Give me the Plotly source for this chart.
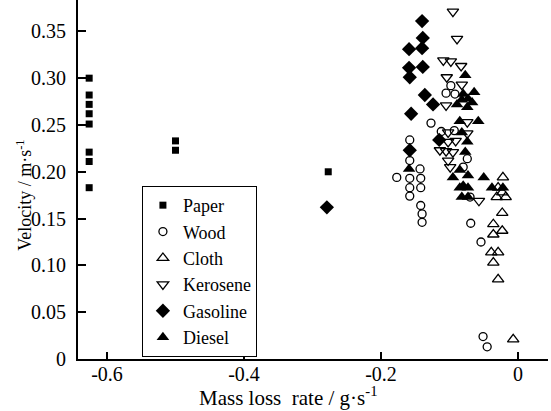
import plotly.graph_objects as go

# ---- data (mass loss rate g/s, velocity m/s) ----
paper_x = [-0.626, -0.626, -0.626, -0.626, -0.626, -0.626, -0.626, -0.626, -0.500, -0.500, -0.277]
paper_y = [0.300, 0.282, 0.272, 0.262, 0.251, 0.221, 0.211, 0.183, 0.233, 0.223, 0.200]

wood_x = [-0.098, -0.105, -0.092, -0.127, -0.112, -0.093, -0.158, -0.158, -0.074, -0.080,
          -0.143, -0.177, -0.158, -0.142, -0.158, -0.142, -0.158, -0.142, -0.140, -0.140,
          -0.070, -0.069, -0.054, -0.051, -0.045]
wood_y = [0.292, 0.284, 0.283, 0.252, 0.243, 0.244, 0.234, 0.212, 0.214, 0.205,
          0.203, 0.194, 0.193, 0.193, 0.183, 0.183, 0.174, 0.164, 0.155, 0.146,
          0.173, 0.145, 0.125, 0.024, 0.013]

cloth_x = [-0.022, -0.029, -0.023, -0.031, -0.018, -0.023, -0.036, -0.023, -0.036,
           -0.039, -0.029, -0.036, -0.029, -0.007]
cloth_y = [0.194, 0.183, 0.178, 0.173, 0.173, 0.156, 0.144, 0.137, 0.133,
           0.114, 0.114, 0.103, 0.085, 0.021]

kero_x = [-0.095, -0.089, -0.109, -0.098, -0.083, -0.104, -0.082, -0.105, -0.074, -0.102,
          -0.074, -0.102, -0.091, -0.114, -0.105, -0.095, -0.102, -0.099, -0.057]
kero_y = [0.371, 0.342, 0.319, 0.318, 0.313, 0.301, 0.293, 0.271, 0.253, 0.242,
          0.241, 0.232, 0.233, 0.223, 0.222, 0.221, 0.212, 0.205, 0.169]

gas_x = [-0.140, -0.139, -0.159, -0.140, -0.159, -0.139, -0.158, -0.136, -0.124, -0.156,
         -0.115, -0.158, -0.279]
gas_y = [0.361, 0.343, 0.331, 0.332, 0.311, 0.312, 0.301, 0.282, 0.272, 0.262,
         0.234, 0.223, 0.162]

diesel_x = [-0.077, -0.064, -0.080, -0.073, -0.067, -0.082, -0.089, -0.074, -0.085, -0.058,
            -0.082, -0.074, -0.077, -0.159, -0.085, -0.095, -0.073, -0.050, -0.085, -0.073,
            -0.038, -0.022, -0.082, -0.073, -0.080]
diesel_y = [0.303, 0.285, 0.283, 0.278, 0.274, 0.277, 0.272, 0.269, 0.254, 0.254,
            0.242, 0.232, 0.221, 0.203, 0.202, 0.194, 0.196, 0.194, 0.183, 0.183,
            0.183, 0.183, 0.173, 0.173, 0.185]

x_tickvals = [-0.6, -0.4, -0.2, 0]
x_ticktext = ["-0.6", "-0.4", "-0.2", "0"]
y_tickvals = [0, 0.05, 0.10, 0.15, 0.20, 0.25, 0.30, 0.35]
y_ticktext = ["0", "0.05", "0.10", "0.15", "0.20", "0.25", "0.30", "0.35"]

x_title = "Mass loss  rate / g·s<sup>-1</sup>"
y_title = "Velocity / m·s<sup>-1</sup>"

FONT = "Liberation Serif"

fig = go.Figure()

def add(name, xs, ys, symbol, size, filled):
    fig.add_trace(go.Scatter(
        x=xs, y=ys, mode="markers", name=name,
        marker=dict(symbol=symbol, size=size, color="black",
                    line=dict(color="black", width=0 if filled else 1.3)),
    ))

add("Paper", paper_x, paper_y, "square", 7, True)
add("Wood", wood_x, wood_y, "circle-open", 8, False)
add("Cloth", cloth_x, cloth_y, "triangle-up-open", 10, False)
add("Kerosene", kero_x, kero_y, "triangle-down-open", 10, False)
add("Gasoline", gas_x, gas_y, "diamond", 11, True)
add("Diesel", diesel_x, diesel_y, "triangle-up", 11, True)

fig.update_layout(
    width=551, height=411,
    margin=dict(l=78, r=3, t=0, b=52),
    paper_bgcolor="white", plot_bgcolor="white",
    font=dict(family=FONT, size=20, color="black"),
    showlegend=True,
    legend=dict(x=0.136, y=0.482, xanchor="left", yanchor="top",
                bgcolor="white", bordercolor="black", borderwidth=1,
                font=dict(family=FONT, size=18, color="black")),
    xaxis=dict(range=[-0.6423, 0.0438], tickvals=x_tickvals, ticktext=x_ticktext,
               showgrid=False, zeroline=False, showline=True, linecolor="black", linewidth=2,
               ticks="inside", ticklen=7, tickwidth=2, tickcolor="black",
               ticklabelstandoff=-4),
    yaxis=dict(range=[0, 0.3835], tickvals=y_tickvals, ticktext=y_ticktext,
               showgrid=False, zeroline=False, showline=True, linecolor="black", linewidth=2,
               ticks="inside", ticklen=8, tickwidth=2, tickcolor="black",
               ticklabelstandoff=6),
    annotations=[
        dict(text=x_title, xref="paper", yref="paper", x=0.447, y=-0.104,
             xanchor="center", yanchor="middle", showarrow=False, font=dict(size=21)),
        dict(text=y_title, xref="paper", yref="paper", x=-0.113, y=0.457, textangle=-90,
             xanchor="center", yanchor="middle", showarrow=False, font=dict(size=18)),
    ],
)

fig.write_html("out.html")
